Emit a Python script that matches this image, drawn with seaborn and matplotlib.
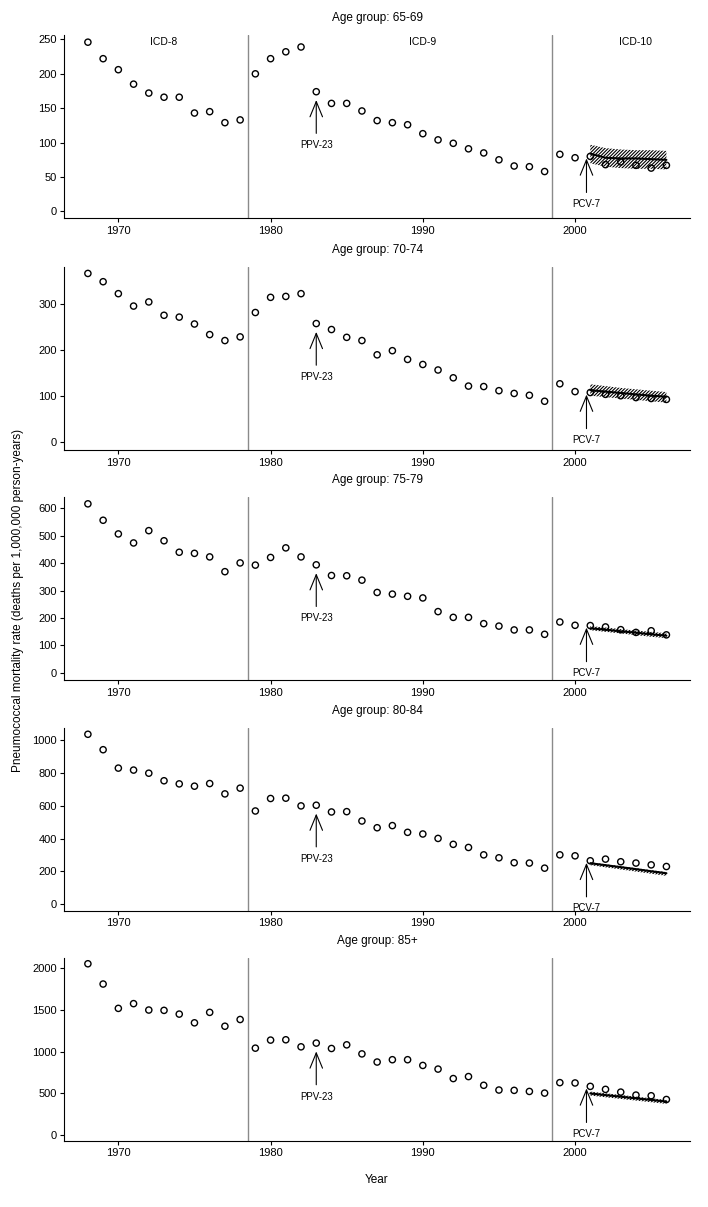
import numpy as np
import pandas as pd
import matplotlib
matplotlib.use("Agg")
import matplotlib.pyplot as plt
import seaborn as sns

# ---------------- data ----------------
years = list(range(1968, 2007))
age_groups = ["65-69", "70-74", "75-79", "80-84", "85+"]

rate_65_69 = [246, 222, 206, 185, 172, 166, 166, 143, 145, 129, 133, 200, 222, 232, 239, 174, 157, 157, 146, 132,
              129, 126, 113, 104, 99, 91, 85, 75, 66, 65, 58, 83, 78, 80, 68, 72, 67, 63, 67]
rate_70_74 = [367, 349, 323, 296, 305, 276, 272, 257, 234, 221, 229, 282, 315, 317, 323, 258, 245, 228, 221, 190,
              199, 180, 169, 157, 140, 122, 121, 112, 106, 102, 89, 127, 110, 108, 104, 101, 97, 95, 93]
rate_75_79 = [617, 557, 507, 474, 519, 482, 440, 436, 423, 369, 401, 393, 421, 456, 423, 394, 355, 354, 338, 293,
              287, 279, 273, 223, 202, 202, 179, 170, 156, 156, 140, 185, 173, 172, 167, 157, 147, 153, 138]
rate_80_84 = [1035, 941, 829, 817, 798, 752, 733, 719, 735, 672, 707, 568, 644, 646, 599, 603, 562, 564, 507, 466,
              479, 438, 428, 401, 365, 346, 301, 283, 253, 251, 220, 301, 295, 265, 275, 259, 251, 240, 230]
rate_85_plus = [2057, 1813, 1520, 1577, 1500, 1496, 1451, 1346, 1472, 1305, 1386, 1041, 1138, 1142, 1057, 1102,
                1037, 1081, 972, 874, 902, 902, 833, 789, 675, 699, 594, 537, 533, 520, 500, 626, 622, 581, 545,
                512, 476, 468, 423]

fit_years = [2001, 2002, 2003, 2004, 2005, 2006]
fit_65_69 = [84, 78, 77, 77, 76, 75]
lower_65_69 = [70, 65, 63, 62, 62, 61]
upper_65_69 = [97, 92, 90, 89, 89, 88]
fit_70_74 = [113, 110, 107, 104, 101, 99]
lower_70_74 = [101, 98, 95, 92, 89, 86]
upper_70_74 = [126, 122, 118, 115, 112, 109]
fit_75_79 = [162, 157, 151, 146, 140, 135]
lower_75_79 = [155, 149, 143, 137, 131, 126]
upper_75_79 = [170, 165, 159, 154, 149, 144]
fit_80_84 = [250, 238, 226, 214, 201, 189]
lower_80_84 = [238, 225, 212, 199, 186, 173]
upper_80_84 = [256, 244, 232, 220, 208, 196]
fit_85_plus = [496, 476, 457, 437, 418, 398]
lower_85_plus = [470, 450, 430, 410, 390, 370]
upper_85_plus = [518, 498, 478, 458, 438, 418]

yticks_65_69 = [0, 50, 100, 150, 200, 250]
yticks_70_74 = [0, 100, 200, 300]
yticks_75_79 = [0, 100, 200, 300, 400, 500, 600]
yticks_80_84 = [0, 200, 400, 600, 800, 1000]
yticks_85_plus = [0, 500, 1000, 1500, 2000]
xticks = [1970, 1980, 1990, 2000]

icd_labels = ["ICD-8", "ICD-9", "ICD-10"]
icd_label_years = [1973, 1990, 2004]
icd_breaks = [1978.5, 1998.5]
vaccine_labels = ["PPV-23", "PCV-7"]
vaccine_years = [1983, 2000.75]

rates = [rate_65_69, rate_70_74, rate_75_79, rate_80_84, rate_85_plus]
fits = [fit_65_69, fit_70_74, fit_75_79, fit_80_84, fit_85_plus]
lowers = [lower_65_69, lower_70_74, lower_75_79, lower_80_84, lower_85_plus]
uppers = [upper_65_69, upper_70_74, upper_75_79, upper_80_84, upper_85_plus]
yticks_all = [yticks_65_69, yticks_70_74, yticks_75_79, yticks_80_84, yticks_85_plus]
ylims = [(-10, 256), (-17, 381), (-27, 642), (-39, 1075), (-73, 2130)]

# ---------------- style ----------------
sns.set_theme(style="ticks")
plt.rcParams["font.family"] = ["Liberation Sans", "DejaVu Sans"]
plt.rcParams["hatch.linewidth"] = 0.8
plt.rcParams["axes.linewidth"] = 0.8
plt.rcParams["xtick.major.width"] = 0.8
plt.rcParams["ytick.major.width"] = 0.8
for k in ["text.color", "axes.labelcolor", "xtick.color", "ytick.color", "axes.edgecolor",
          "xtick.labelcolor", "ytick.labelcolor"]:
    plt.rcParams[k] = "black"

fig = plt.figure(figsize=(7.08, 12.07), dpi=100)
W, H = 708, 1207
left_px, right_px = 64.3, 690
ax_h = 183
bottoms_px = [218.3, 450, 680, 910.7, 1140.7]

for i, grp in enumerate(age_groups):
    b = bottoms_px[i]
    ax = fig.add_axes([left_px / W, (H - b) / H, (right_px - left_px) / W, ax_h / H])
    df = pd.DataFrame({"year": years, "rate": rates[i]})
    fdf = pd.DataFrame({"year": fit_years, "fit": fits[i], "lo": lowers[i], "hi": uppers[i]})

    for xb in icd_breaks:
        ax.axvline(xb, color="#8a8a8a", lw=1.0, zorder=1)

    ax.fill_between(fdf["year"], fdf["lo"], fdf["hi"], facecolor="none", edgecolor="black",
                    hatch="//////////", linewidth=0, zorder=2)
    sns.lineplot(data=fdf, x="year", y="fit", ax=ax, color="black", lw=1.5, zorder=3)
    sns.scatterplot(data=df, x="year", y="rate", ax=ax, marker="o", s=20, facecolor="none",
                    edgecolor="black", linewidth=1.0, zorder=4)

    ax.set_xlim(1966.45, 2007.55)
    ax.set_ylim(*ylims[i])
    ax.set_xticks(xticks)
    ax.set_yticks(yticks_all[i])
    ax.tick_params(axis="both", labelsize=8, length=3, pad=2.5, colors="black")
    ax.set_xlabel("")
    ax.set_ylabel("")
    sns.despine(ax=ax)
    ax.set_title("Age group: " + grp, fontsize=8.5, pad=10, color="black")

    # vaccine arrows
    r83 = rates[i][years.index(1983)]
    ax.annotate("", xy=(vaccine_years[0], r83), xytext=(0, -30), textcoords="offset points",
                arrowprops=dict(arrowstyle="->,head_length=1.1,head_width=0.45", lw=0.8, color="black",
                                shrinkA=0, shrinkB=6, mutation_scale=10))
    ax.annotate(vaccine_labels[0], xy=(vaccine_years[0], r83), xytext=(0, -38.5), textcoords="offset points",
                ha="center", va="center", fontsize=7)
    r01 = rates[i][years.index(2001)]
    ax.annotate("", xy=(vaccine_years[1], r01), xytext=(0, -26), textcoords="offset points",
                arrowprops=dict(arrowstyle="->,head_length=1.1,head_width=0.45", lw=0.8, color="black",
                                shrinkA=0, shrinkB=1.5, mutation_scale=10))
    ax.annotate(vaccine_labels[1], xy=(vaccine_years[1], r01), xytext=(0, -34), textcoords="offset points",
                ha="center", va="center", fontsize=7)

    if i == 0:
        for lab, yr in zip(icd_labels, icd_label_years):
            ax.text(yr, 0.963, lab, transform=ax.get_xaxis_transform(), ha="center", va="center", fontsize=7.5)

fig.text(377 / W, 1 - 1180 / H, "Year", ha="center", va="center", fontsize=8.5)
fig.text(18 / W, 1 - 600 / H, "Pneumococcal mortality rate (deaths per 1,000,000 person-years)",
         rotation=90, ha="center", va="center", fontsize=8.5)

fig.savefig("out.png", dpi=100)
